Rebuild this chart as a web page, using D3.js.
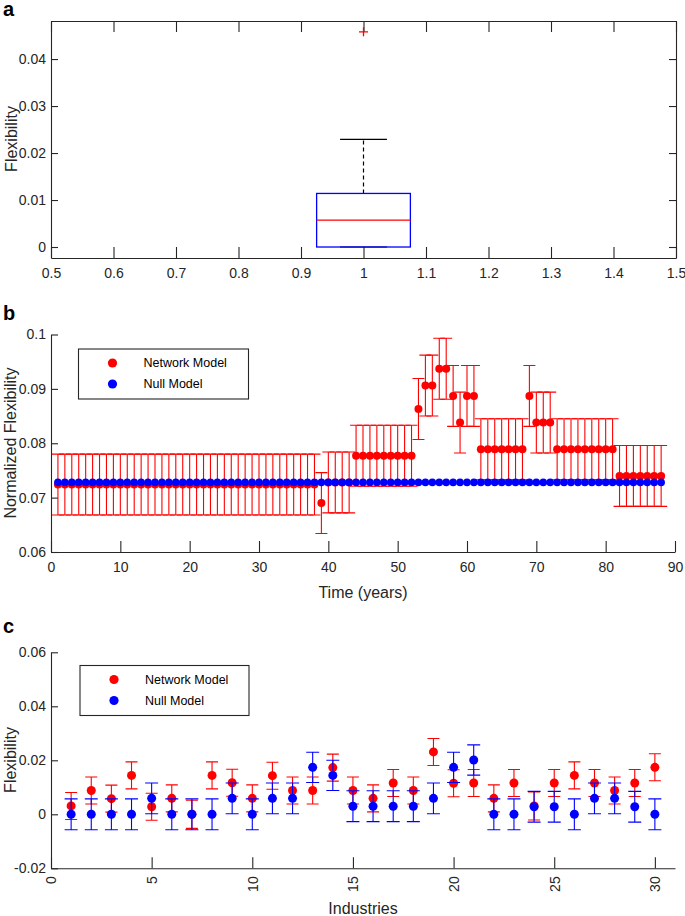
<!DOCTYPE html>
<html>
<head>
<meta charset="utf-8">
<script src="https://cdn.jsdelivr.net/npm/d3@7"></script>
<style>
  body { margin: 0; background: #fff; }
  svg { display: block; }
</style>
</head>
<body>
<svg id="chart" width="685" height="916"></svg>
<script>
const fontFamily = `"Liberation Sans", Arial, Helvetica, sans-serif`;
const ink = "#262626";
const red = "#ff0000";
const blue = "#0000ff";

// panel a: box plot summary
const boxQ1 = 0;
const boxMedian = 0.0057;
const boxQ3 = 0.0114;
const boxWhiskerLow = 0;
const boxWhiskerHigh = 0.0229;
const boxOutliers = [0.0458];
const boxXTicks = [0.5, 0.6, 0.7, 0.8, 0.9, 1, 1.1, 1.2, 1.3, 1.4, 1.5];
const boxYTicks = [0, 0.01, 0.02, 0.03, 0.04];

// panel b: normalized flexibility over time
const years = d3.range(1, 89);
const networkTime = [
  0.0724, 0.0724, 0.0724, 0.0724, 0.0724, 0.0724, 0.0724, 0.0724, 0.0724, 0.0724,
  0.0724, 0.0724, 0.0724, 0.0724, 0.0724, 0.0724, 0.0724, 0.0724, 0.0724, 0.0724,
  0.0724, 0.0724, 0.0724, 0.0724, 0.0724, 0.0724, 0.0724, 0.0724, 0.0724, 0.0724,
  0.0724, 0.0724, 0.0724, 0.0724, 0.0724, 0.0724, 0.0724, 0.0724, 0.0690, 0.0728,
  0.0728, 0.0728, 0.0728, 0.0777, 0.0777, 0.0777, 0.0777, 0.0777, 0.0777, 0.0777,
  0.0777, 0.0777, 0.0863, 0.0906, 0.0906, 0.0937, 0.0937, 0.0887, 0.0838, 0.0887,
  0.0887, 0.0789, 0.0789, 0.0789, 0.0789, 0.0789, 0.0789, 0.0789, 0.0887, 0.0838,
  0.0838, 0.0838, 0.0789, 0.0789, 0.0789, 0.0789, 0.0789, 0.0789, 0.0789, 0.0789,
  0.0789, 0.0740, 0.0740, 0.0740, 0.0740, 0.0740, 0.0740, 0.0740,
];
const networkTimeErr = [
  0.0056, 0.0056, 0.0056, 0.0056, 0.0056, 0.0056, 0.0056, 0.0056, 0.0056, 0.0056,
  0.0056, 0.0056, 0.0056, 0.0056, 0.0056, 0.0056, 0.0056, 0.0056, 0.0056, 0.0056,
  0.0056, 0.0056, 0.0056, 0.0056, 0.0056, 0.0056, 0.0056, 0.0056, 0.0056, 0.0056,
  0.0056, 0.0056, 0.0056, 0.0056, 0.0056, 0.0056, 0.0056, 0.0056, 0.0056, 0.0056,
  0.0056, 0.0056, 0.0056, 0.0056, 0.0056, 0.0056, 0.0056, 0.0056, 0.0056, 0.0056,
  0.0056, 0.0056, 0.0056, 0.0056, 0.0056, 0.0056, 0.0056, 0.0056, 0.0056, 0.0056,
  0.0056, 0.0056, 0.0056, 0.0056, 0.0056, 0.0056, 0.0056, 0.0056, 0.0056, 0.0056,
  0.0056, 0.0056, 0.0056, 0.0056, 0.0056, 0.0056, 0.0056, 0.0056, 0.0056, 0.0056,
  0.0056, 0.0056, 0.0056, 0.0056, 0.0056, 0.0056, 0.0056, 0.0056,
];
const nullTime = [
  0.0728, 0.0728, 0.0728, 0.0728, 0.0728, 0.0728, 0.0728, 0.0728, 0.0728, 0.0728,
  0.0728, 0.0728, 0.0728, 0.0728, 0.0728, 0.0728, 0.0728, 0.0728, 0.0728, 0.0728,
  0.0728, 0.0728, 0.0728, 0.0728, 0.0728, 0.0728, 0.0728, 0.0728, 0.0728, 0.0728,
  0.0728, 0.0728, 0.0728, 0.0728, 0.0728, 0.0728, 0.0728, 0.0728, 0.0728, 0.0728,
  0.0728, 0.0728, 0.0728, 0.0728, 0.0728, 0.0728, 0.0728, 0.0728, 0.0728, 0.0728,
  0.0728, 0.0728, 0.0728, 0.0728, 0.0728, 0.0728, 0.0728, 0.0728, 0.0728, 0.0728,
  0.0728, 0.0728, 0.0728, 0.0728, 0.0728, 0.0728, 0.0728, 0.0728, 0.0728, 0.0728,
  0.0728, 0.0728, 0.0728, 0.0728, 0.0728, 0.0728, 0.0728, 0.0728, 0.0728, 0.0728,
  0.0728, 0.0728, 0.0728, 0.0728, 0.0728, 0.0728, 0.0728, 0.0728,
];
const timeXTicks = [0, 10, 20, 30, 40, 50, 60, 70, 80, 90];
const timeYTicks = [0.06, 0.07, 0.08, 0.09, 0.1];

// panel c: flexibility per industry
const industries = d3.range(1, 31);
const networkInd = [
  0.0031, 0.0088, 0.0058, 0.0144, 0.0028, 0.0059, 0.0000, 0.0144, 0.0117, 0.0059,
  0.0143, 0.0088, 0.0088, 0.0173, 0.0088, 0.0059, 0.0116, 0.0088, 0.0231, 0.0115,
  0.0116, 0.0059, 0.0116, 0.0031, 0.0116, 0.0144, 0.0116, 0.0088, 0.0116, 0.0174,
];
const networkIndErr = [
  0.0050, 0.0050, 0.0050, 0.0050, 0.0050, 0.0050, 0.0052, 0.0050, 0.0050, 0.0050,
  0.0050, 0.0050, 0.0050, 0.0050, 0.0050, 0.0050, 0.0050, 0.0050, 0.0050, 0.0050,
  0.0050, 0.0050, 0.0050, 0.0052, 0.0050, 0.0050, 0.0050, 0.0050, 0.0050, 0.0050,
];
const nullInd = [
  0.0000, 0.0000, 0.0000, 0.0000, 0.0059, 0.0000, 0.0000, 0.0000, 0.0059, 0.0000,
  0.0059, 0.0059, 0.0174, 0.0144, 0.0030, 0.0030, 0.0030, 0.0030, 0.0059, 0.0174,
  0.0201, 0.0000, 0.0000, 0.0028, 0.0028, 0.0000, 0.0059, 0.0059, 0.0028, 0.0000,
];
const nullIndErr = [
  0.0057, 0.0057, 0.0057, 0.0057, 0.0057, 0.0057, 0.0057, 0.0057, 0.0057, 0.0057,
  0.0057, 0.0057, 0.0056, 0.0056, 0.0057, 0.0057, 0.0057, 0.0057, 0.0057, 0.0056,
  0.0056, 0.0057, 0.0057, 0.0057, 0.0057, 0.0057, 0.0057, 0.0057, 0.0057, 0.0057,
];
const indXTicks = [0, 5, 10, 15, 20, 25, 30];
const indYTicks = [-0.02, 0, 0.02, 0.04, 0.06];

const legendLabels = ["Network Model", "Null Model"];

const svg = d3.select("#chart")
  .attr("font-family", fontFamily)
  .attr("fill", ink);

const fmt = (d) => String(+d.toFixed(3));

renderBoxPanel();
renderTimePanel();
renderIndustryPanel();

function styleAxis(g) {
  g.attr("font-size", 14).attr("font-family", fontFamily);
  g.selectAll("path, line").attr("stroke", ink).attr("stroke-width", 1.1);
  g.selectAll("text").attr("fill", ink);
}

function panelLetter(letter, x, y) {
  svg.append("text")
    .attr("x", x)
    .attr("y", y)
    .attr("font-size", 20)
    .attr("font-weight", "bold")
    .attr("fill", "#000")
    .text(letter);
}

function yLabel(text, x, y) {
  svg.append("text")
    .attr("transform", `translate(${x}, ${y}) rotate(-90)`)
    .attr("text-anchor", "middle")
    .attr("dy", "0.35em")
    .attr("font-size", 16)
    .text(text);
}

function renderBoxPanel() {
  const left = 51, right = 676, top = 21, bottom = 258;
  const x = d3.scaleLinear().domain([0.5, 1.5]).range([left, right]);
  const y = d3.scaleLinear().domain([-0.00234, 0.0481]).range([bottom, top]);

  panelLetter("a", 3, 16);

  // bottom / top / left / right axes, ticks point inward
  svg.append("g")
    .attr("transform", `translate(0, ${bottom})`)
    .call(d3.axisBottom(x).tickValues(boxXTicks).tickFormat(fmt)
      .tickSizeInner(-11).tickSizeOuter(0).tickPadding(10))
    .call(styleAxis);
  svg.append("g")
    .attr("transform", `translate(0, ${top})`)
    .call(d3.axisTop(x).tickValues(boxXTicks).tickFormat("")
      .tickSizeInner(-11).tickSizeOuter(0))
    .call(styleAxis);
  svg.append("g")
    .attr("transform", `translate(${left}, 0)`)
    .call(d3.axisLeft(y).tickValues(boxYTicks).tickFormat(fmt)
      .tickSizeInner(-7).tickSizeOuter(0).tickPadding(5))
    .call(styleAxis);
  svg.append("g")
    .attr("transform", `translate(${right}, 0)`)
    .call(d3.axisRight(y).tickValues(boxYTicks).tickFormat("")
      .tickSizeInner(-7).tickSizeOuter(0))
    .call(styleAxis);

  yLabel("Flexibility", 11, 139);

  const g = svg.append("g").attr("fill", "none");
  const cx = x(1);

  // whisker (dashed) and caps
  g.append("line")
    .attr("x1", cx).attr("x2", cx)
    .attr("y1", y(boxQ3)).attr("y2", y(boxWhiskerHigh))
    .attr("stroke", "#000").attr("stroke-width", 1.2)
    .attr("stroke-dasharray", "4,3");
  g.append("line")
    .attr("x1", x(0.9625)).attr("x2", x(1.0375))
    .attr("y1", y(boxWhiskerHigh)).attr("y2", y(boxWhiskerHigh))
    .attr("stroke", "#000").attr("stroke-width", 1.3);
  g.append("line")
    .attr("x1", x(0.9625)).attr("x2", x(1.0375))
    .attr("y1", y(boxWhiskerLow)).attr("y2", y(boxWhiskerLow))
    .attr("stroke", "#000").attr("stroke-width", 1.2);

  g.append("rect")
    .attr("x", x(0.925))
    .attr("y", y(boxQ3))
    .attr("width", x(1.075) - x(0.925))
    .attr("height", y(boxQ1) - y(boxQ3))
    .attr("stroke", blue)
    .attr("stroke-width", 1.3);

  g.append("line")
    .attr("x1", x(0.925)).attr("x2", x(1.075))
    .attr("y1", y(boxMedian)).attr("y2", y(boxMedian))
    .attr("stroke", red).attr("stroke-width", 1.3);

  g.selectAll(".outlier")
    .data(boxOutliers)
    .enter()
    .append("path")
    .classed("outlier", true)
    .attr("d", (d) => `M${cx - 4.5},${y(d)}H${cx + 4.5}M${cx},${y(d) - 4.5}V${y(d) + 4.5}`)
    .attr("stroke", red)
    .attr("stroke-width", 1.3);
}

function drawErrorSeries(g, xs, values, errs, x, y, color, r, capHalf) {
  const s = g.append("g");
  const data = xs.map((d, i) => ({ x: d, v: values[i], e: errs[i] }));
  const bars = s.append("g").attr("stroke", color).attr("stroke-width", 1.1).attr("fill", "none");
  bars.selectAll("path")
    .data(data)
    .enter()
    .append("path")
    .attr("d", (d) => {
      const px = x(d.x), hi = y(d.v + d.e), lo = y(d.v - d.e);
      return `M${px},${hi}V${lo}M${px - capHalf},${hi}H${px + capHalf}M${px - capHalf},${lo}H${px + capHalf}`;
    });
  s.append("g")
    .attr("fill", color)
    .selectAll("circle")
    .data(data)
    .enter()
    .append("circle")
    .attr("cx", (d) => x(d.x))
    .attr("cy", (d) => y(d.v))
    .attr("r", r);
}

function drawLegend(x0, y0, w, h) {
  const lg = svg.append("g").attr("transform", `translate(${x0}, ${y0})`);
  lg.append("rect")
    .attr("width", w).attr("height", h)
    .attr("fill", "#fff").attr("stroke", ink).attr("stroke-width", 1.1);
  lg.selectAll("g.item")
    .data(legendLabels)
    .enter()
    .append("g")
    .attr("class", "item")
    .attr("transform", (d, i) => `translate(0, ${14 + i * 21})`)
    .each(function (d, i) {
      const item = d3.select(this);
      item.append("circle")
        .attr("cx", 34).attr("cy", 0).attr("r", 4.6)
        .attr("fill", i ? blue : red);
      item.append("text")
        .attr("x", 65).attr("dy", "0.35em")
        .attr("font-size", 12.5)
        .attr("fill", "#000")
        .text(d);
    });
}

function renderTimePanel() {
  const left = 51, right = 675, top = 334.5, bottom = 552;
  const x = d3.scaleLinear().domain([0, 90]).range([left, right]);
  const y = d3.scaleLinear().domain([0.06, 0.1]).range([bottom, top]);

  panelLetter("b", 3, 320);

  svg.append("g")
    .attr("transform", `translate(0, ${bottom})`)
    .call(d3.axisBottom(x).tickValues(timeXTicks)
      .tickSizeInner(-11).tickSizeOuter(0).tickPadding(10))
    .call(styleAxis);
  svg.append("g")
    .attr("transform", `translate(${left}, 0)`)
    .call(d3.axisLeft(y).tickValues(timeYTicks).tickFormat(fmt)
      .tickSizeInner(-7).tickSizeOuter(0).tickPadding(5))
    .call(styleAxis);

  svg.append("text")
    .attr("x", (left + right) / 2)
    .attr("y", 598)
    .attr("text-anchor", "middle")
    .attr("font-size", 16)
    .text("Time (years)");
  yLabel("Normalized Flexibility", 10, 443);

  const g = svg.append("g");
  drawErrorSeries(g, years, networkTime, networkTimeErr, x, y, red, 4, 6);
  drawErrorSeries(g, years, nullTime, nullTime.map(() => 0), x, y, blue, 3.8, 0);

  drawLegend(78.5, 349, 170, 50);
}

function renderIndustryPanel() {
  const left = 51, right = 675, top = 652.3, bottom = 868.3;
  const x = d3.scaleLinear().domain([0, 31]).range([left, right]);
  const y = d3.scaleLinear().domain([-0.02, 0.06]).range([bottom, top]);

  panelLetter("c", 3, 633);

  const xAxis = svg.append("g")
    .attr("transform", `translate(0, ${bottom})`)
    .call(d3.axisBottom(x).tickValues(indXTicks)
      .tickSizeInner(-11).tickSizeOuter(0))
    .call(styleAxis);
  // rotated tick labels reading upward
  xAxis.selectAll(".tick text")
    .attr("transform", "rotate(-90)")
    .attr("text-anchor", "end")
    .attr("x", -8)
    .attr("y", 0)
    .attr("dy", "0.35em");

  svg.append("g")
    .attr("transform", `translate(${left}, 0)`)
    .call(d3.axisLeft(y).tickValues(indYTicks).tickFormat(fmt)
      .tickSizeInner(-7).tickSizeOuter(0).tickPadding(5))
    .call(styleAxis);

  svg.append("text")
    .attr("x", (left + right) / 2)
    .attr("y", 914)
    .attr("text-anchor", "middle")
    .attr("font-size", 16)
    .text("Industries");
  yLabel("Flexibility", 10, 760);

  const g = svg.append("g");
  drawErrorSeries(g, industries, networkInd, networkIndErr, x, y, red, 4.5, 6);
  drawErrorSeries(g, industries, nullInd, nullIndErr, x, y, blue, 4.5, 6.5);

  drawLegend(80, 665.5, 169, 50);
}
</script>
</body>
</html>
